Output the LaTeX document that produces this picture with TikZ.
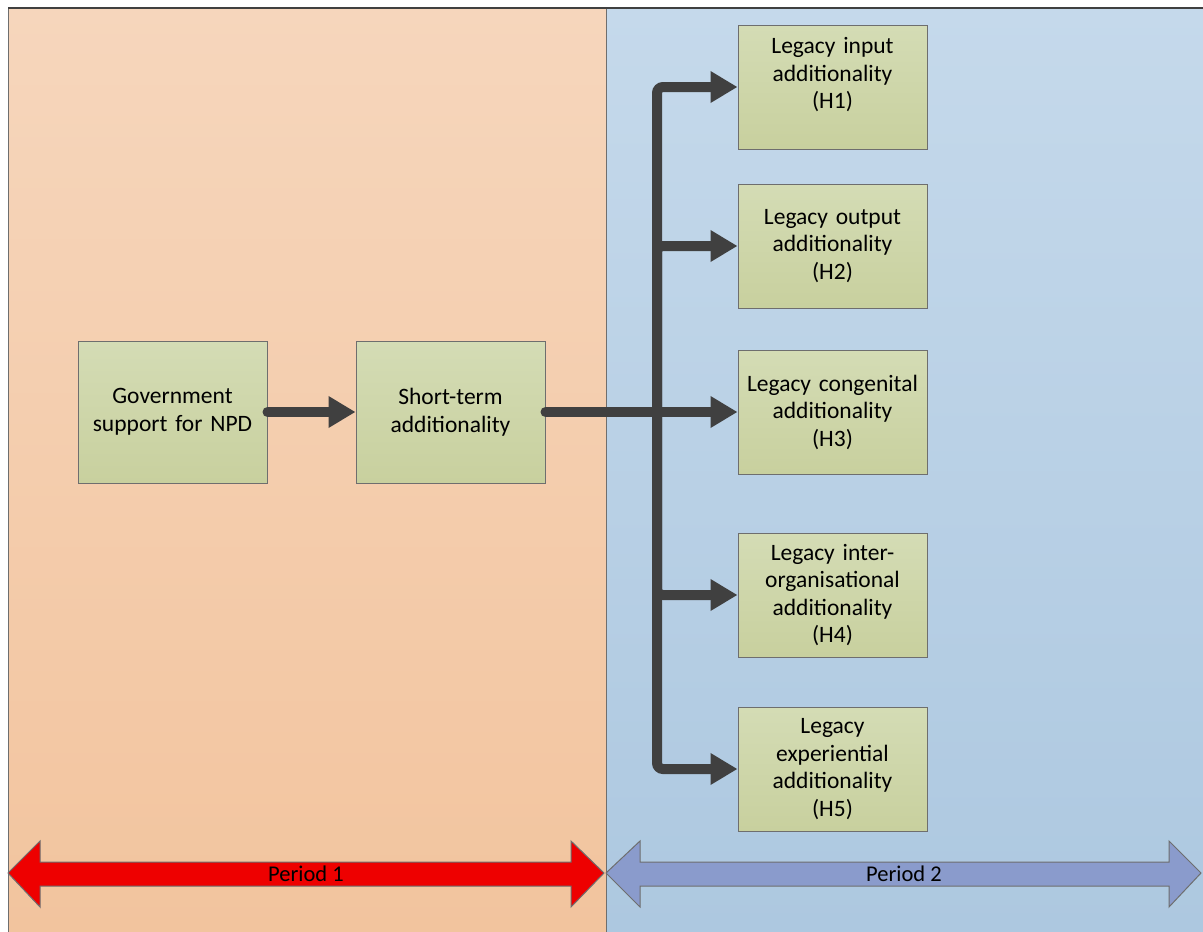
\documentclass[tikz,border=0pt]{standalone}
\usepackage{fontspec}
\setmainfont{Carlito}
\usetikzlibrary{arrows.meta}
\definecolor{lefttop}{HTML}{F6D6BC}
\definecolor{leftbot}{HTML}{F2C49E}
\definecolor{righttop}{HTML}{C5D9EB}
\definecolor{rightbot}{HTML}{ADC8E0}
\definecolor{boxtop}{HTML}{D4DCB5}
\definecolor{boxbot}{HTML}{C8D09E}
\definecolor{boxline}{HTML}{6E6E6E}
\definecolor{conncol}{HTML}{404040}
\definecolor{redarrow}{HTML}{EE0000}
\definecolor{bluearrow}{HTML}{8A9BCC}
\tikzset{
  box/.style={draw=boxline, line width=1pt, top color=boxtop, bottom color=boxbot,
    minimum width=189pt, text width=185pt, align=center, inner sep=0pt,
    font=\fontsize{23.5}{27.5}\selectfont},
  hbox/.style={box, minimum height=124pt},
  mbox/.style={box, minimum height=142pt},
  conn/.style={draw=conncol, line width=10pt, line cap=round, rounded corners=6pt,
    -{Triangle[length=27pt,width=30pt]}},
  panel/.style={draw=boxline, line width=1pt},
  lbl/.style={font=\fontsize{22.5}{26}\selectfont, inner sep=0pt}
}
\begin{document}
\begin{tikzpicture}[x=1pt,y=-1pt]
\useasboundingbox (0,0) rectangle (1203,932);
% panels
\path[panel, top color=lefttop, bottom color=leftbot] (8,8) rectangle (606,932);
\path[panel, top color=righttop, bottom color=rightbot] (606,8) rectangle (1203,932);
\draw[conncol, line width=2pt] (8,8) -- (1203,8);
% boxes
\node[mbox] (gov) at (172.5,412) {Government\\support for NPD};
\node[mbox] (st) at (450.5,412) {Short-term\\additionality};
\node[hbox] (h1) at (832.5,87) {Legacy input\\additionality\\(H1)\\\mbox{}};
\node[hbox] (h2) at (832.5,246) {Legacy output\\additionality\\(H2)};
\node[hbox] (h3) at (832.5,412) {Legacy congenital\\additionality\\(H3)};
\node[hbox] (h4) at (832.5,595) {Legacy inter-\\organisational\\additionality\\(H4)};
\node[hbox] (h5) at (832.5,769) {Legacy\\experiential\\additionality\\(H5)};
% connectors
\coordinate (j) at (657,412);
\draw[conn] (gov.east) -- (st.west);
\draw[conn] (j) |- (h1.west);
\draw[conn] (j) |- (h5.west);
\draw[conn] (j) |- (h2.west);
\draw[conn] (j) |- (h4.west);
\draw[conn] (st.east) -- (h3.west);
% period arrows
\draw[boxline, line width=1pt, fill=redarrow]
  (8,873) -- (40,841) -- (40,862) -- (571,862) -- (571,841) -- (604,873)
  -- (571,907) -- (571,886) -- (40,886) -- (40,907) -- cycle;
\node[lbl] (p1) at (306,874) {Period 1};
\draw[boxline, line width=1pt, fill=bluearrow]
  (606,873) -- (640,841) -- (640,862) -- (1169,862) -- (1169,841) -- (1201,873)
  -- (1169,907) -- (1169,886) -- (640,886) -- (640,907) -- cycle;
\node[lbl] (p2) at (904,874) {Period 2};
\end{tikzpicture}
\end{document}
